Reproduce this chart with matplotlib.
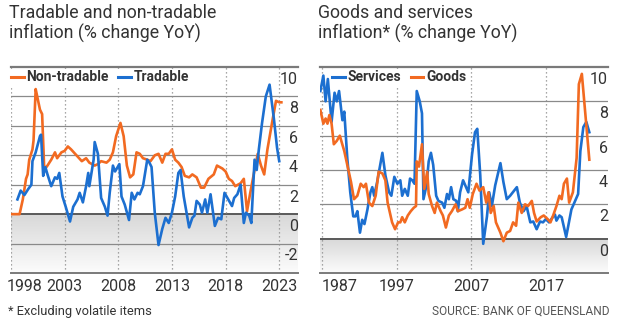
import matplotlib
matplotlib.use("Agg")
import matplotlib.pyplot as plt
import matplotlib.transforms as mtransforms
from matplotlib.colors import LinearSegmentedColormap
import numpy as np

ORANGE = "#f26a21"
BLUE = "#1c6fd0"
GRID = "#8a8a8a"
TEXT = "#333333"

plt.rcParams["font.family"] = ["Roboto", "DejaVu Sans"]

# --- left panel: tradable vs non-tradable (% change YoY)
nontrad_year = [1998.0, 1998.8, 1999.1, 1999.4, 1999.55, 1999.7, 2000.0, 2000.1, 2000.3, 2000.5,
                2000.7, 2000.9, 2001.1, 2001.4, 2001.75, 2002.1, 2002.3, 2002.7, 2003.0, 2003.3,
                2003.6, 2004.1, 2004.6, 2005.0, 2005.3, 2005.8, 2006.1, 2006.4, 2006.9, 2007.2,
                2007.5, 2007.8, 2008.2, 2008.5, 2008.8, 2009.1, 2009.4, 2009.7, 2010.0, 2010.3,
                2010.7, 2011.0, 2011.4, 2011.75, 2012.1, 2012.4, 2012.7, 2013.0, 2013.3, 2013.6,
                2013.9, 2014.2, 2014.6, 2014.9, 2015.3, 2015.7, 2016.0, 2016.4, 2016.9, 2017.2,
                2017.7, 2018.0, 2018.3, 2018.6, 2018.9, 2019.4, 2019.7, 2020.0, 2020.3, 2020.7,
                2021.0, 2021.3, 2021.6, 2021.9, 2022.4, 2022.7, 2023.0, 2023.2]
nontrad_val = [0.0, 0.0, 1.0, 2.4, 2.7, 3.7, 4.4, 5.0, 8.5, 7.8,
               7.1, 6.8, 3.0, 3.3, 3.7, 4.2, 3.8, 4.2, 4.3, 4.6,
               4.4, 4.0, 3.6, 3.8, 3.5, 3.3, 3.4, 3.6, 3.5, 3.7,
               4.2, 5.3, 6.2, 5.3, 3.3, 2.5, 2.7, 4.2, 4.1, 3.8,
               3.7, 3.6, 4.0, 4.1, 3.5, 4.1, 4.1, 4.4, 3.7, 3.5,
               3.2, 2.6, 2.5, 2.7, 2.5, 1.8, 1.8, 2.4, 2.7, 3.3,
               3.1, 2.9, 2.4, 2.25, 1.9, 2.1, 2.4, 0.2, 1.45, 3.0,
               4.1, 3.3, 2.7, 4.4, 6.5, 7.7, 7.6, 7.6]

trad_year = [1998.6, 1998.9, 1999.25, 1999.6, 1999.9, 2000.0, 2000.3, 2000.7, 2000.8, 2001.0,
             2001.2, 2001.4, 2001.75, 2002.1, 2002.3, 2002.5, 2002.8, 2003.1, 2003.5, 2003.8,
             2004.2, 2004.4, 2004.7, 2005.0, 2005.2, 2005.3, 2005.7, 2005.8, 2006.1, 2006.4,
             2006.75, 2007.0, 2007.2, 2007.5, 2007.7, 2008.1, 2008.3, 2008.6, 2009.0, 2009.25,
             2009.5, 2009.8, 2010.0, 2010.3, 2010.7, 2010.9, 2011.1, 2011.4, 2011.75, 2012.1,
             2012.4, 2012.7, 2013.0, 2013.3, 2013.6, 2013.8, 2014.1, 2014.6, 2014.9, 2015.1,
             2015.3, 2015.6, 2015.8, 2016.1, 2016.3, 2016.6, 2017.0, 2017.3, 2017.6, 2017.9,
             2018.25, 2018.6, 2018.8, 2019.1, 2019.4, 2019.7, 2019.9, 2020.2, 2020.4, 2020.7,
             2020.9, 2021.1, 2021.4, 2021.75, 2022.1, 2022.5, 2022.8, 2023.0]
trad_val = [1.0, 1.6, 1.3, 1.7, 2.0, 3.6, 4.2, 5.3, 5.4, 2.6,
            3.2, 2.7, 1.9, 2.5, 2.4, 2.8, 1.2, 0.5, -0.5, 0.5,
            1.0, 1.45, 0.8, 1.9, 2.8, 1.9, 3.7, 4.9, 4.1, 1.1,
            0.5, -0.1, 1.45, 3.3, 2.9, 3.4, 1.2, 0.65, -0.4, 1.45,
            1.0, 1.45, 1.35, 1.9, 3.7, 3.5, 3.2, 0.1, -2.1, -1.0,
            -0.25, -0.6, 0.1, 1.2, 2.8, 3.0, 1.2, -0.9, -0.25, -0.1,
            0.9, 0.65, 0.1, 1.0, 0.1, 1.35, -0.8, -0.25, -0.35, 1.45,
            1.0, 0.55, 1.1, 1.35, 2.0, -0.6, 0.1, -0.1, -0.6, 3.7,
            3.0, 4.4, 6.2, 8.0, 8.8, 6.5, 4.5, 3.6]

left_years = [1998, 2003, 2008, 2013, 2018, 2023]
left_yticks = [10, 8, 6, 4, 2, 0, -2]

# --- right panel: services vs goods, excluding volatile items
services_year = [1986.8, 1987.2, 1987.5, 1987.8, 1988.3, 1988.7, 1989.0, 1989.3, 1989.75, 1990.0,
                 1990.4, 1990.8, 1991.2, 1991.5, 1991.75, 1992.1, 1992.4, 1992.7, 1993.1, 1993.5,
                 1993.75, 1994.0, 1994.4, 1995.1, 1995.5, 1996.0, 1996.3, 1996.7, 1997.1, 1997.5,
                 1997.75, 1998.1, 1998.5, 1998.8, 1999.1, 1999.4, 1999.7, 2000.1, 2000.4, 2000.6,
                 2001.0, 2001.3, 2001.6, 2001.9, 2002.3, 2002.6, 2003.1, 2003.4, 2003.75, 2004.0,
                 2004.3, 2004.6, 2005.0, 2005.2, 2005.5, 2005.9, 2006.2, 2006.6, 2007.1, 2007.5,
                 2007.8, 2008.2, 2008.6, 2009.1, 2009.4, 2009.75, 2010.2, 2010.9, 2011.3, 2011.75,
                 2012.2, 2013.1, 2013.5, 2014.0, 2014.4, 2014.9, 2015.3, 2015.75, 2016.2, 2016.6,
                 2017.0, 2017.4, 2017.9, 2018.2, 2018.4, 2018.8, 2019.1, 2019.7, 2020.4, 2020.9,
                 2021.3, 2021.6, 2022.0, 2022.4, 2022.8]
services_val = [8.6, 9.5, 8.0, 9.3, 6.8, 8.5, 8.0, 8.6, 6.9, 7.4,
                4.7, 2.7, 1.3, 1.3, 1.6, 0.35, 1.1, 0.85, 1.7, 2.7,
                3.0, 2.5, 3.3, 5.0, 3.7, 2.7, 2.5, 3.6, 3.2, 3.4,
                2.5, 2.9, 2.5, 3.5, 3.4, 3.2, 8.6, 8.0, 7.3, 2.3,
                3.1, 4.5, 5.0, 4.3, 2.5, 2.2, 2.1, 1.8, 2.6, 2.3,
                3.0, 2.3, 2.2, 1.6, 2.7, 3.4, 3.1, 2.7, 4.9, 6.2,
                6.4, 3.7, -0.3, 1.3, 2.7, 1.9, 3.1, 4.4, 3.3, 2.3,
                2.5, 3.0, 2.1, 1.6, 1.9, 0.95, 1.0, 0.55, 1.0, 0.95,
                1.15, 0.95, 1.25, 1.4, 1.05, 1.35, 1.25, 0.1, 1.7, 2.2,
                2.6, 5.1, 6.5, 6.8, 6.2]

goods_year = [1986.8, 1987.2, 1987.5, 1987.75, 1988.0, 1988.3, 1988.6, 1989.0, 1989.4, 1990.0,
              1990.4, 1990.9, 1991.3, 1991.75, 1992.2, 1992.6, 1992.9, 1993.3, 1993.75, 1994.2,
              1994.6, 1995.1, 1995.5, 1995.8, 1996.4, 1996.8, 1997.2, 1997.5, 1997.75, 1998.1,
              1998.5, 1998.9, 1999.3, 1999.6, 1999.7, 2000.0, 2000.4, 2000.7, 2001.1, 2001.3,
              2001.75, 2002.1, 2002.4, 2002.9, 2003.2, 2003.6, 2004.0, 2004.4, 2004.9, 2005.2,
              2005.75, 2006.2, 2006.5, 2006.8, 2007.2, 2007.7, 2008.1, 2008.6, 2009.0, 2009.3,
              2009.6, 2010.0, 2010.3, 2010.9, 2011.3, 2011.75, 2012.2, 2012.6, 2013.0, 2013.3,
              2013.75, 2014.2, 2014.6, 2015.1, 2015.4, 2015.75, 2016.3, 2016.7, 2017.2, 2017.6,
              2018.0, 2018.4, 2018.8, 2019.1, 2019.4, 2019.8, 2020.1, 2020.6, 2021.1, 2021.4,
              2021.8, 2022.4, 2022.8]
goods_val = [7.5, 6.7, 7.0, 6.7, 7.2, 6.7, 5.5, 5.7, 6.0, 5.1,
             4.3, 3.3, 2.3, 2.5, 3.2, 3.0, 3.2, 2.1, 1.9, 2.5,
             3.9, 3.8, 3.4, 2.1, 0.95, 0.55, 0.95, 0.95, 1.25, 0.95,
             1.35, 1.6, 1.8, 1.9, 4.5, 4.2, 5.5, 2.9, 3.9, 2.6,
             1.9, 1.5, 2.1, 1.6, 1.35, 0.65, 1.35, 1.6, 2.0, 1.6,
             1.7, 1.8, 2.3, 1.8, 2.6, 3.2, 2.8, 3.0, 2.1, 2.7,
             1.5, 1.9, 0.95, 0.35, -0.15, 0.35, 0.45, 0.95, 0.75, 2.1,
             1.5, 2.0, 1.9, 2.2, 1.5, 1.0, 1.25, 1.35, 1.15, 0.95,
             1.4, 1.9, 2.5, 2.3, 3.2, 3.5, 2.1, 2.7, 4.7, 9.0,
             9.6, 6.6, 4.6]

right_years = [1987, 1997, 2007, 2017]
right_yticks = [10, 8, 6, 4, 2, 0]

W, H = 620, 327
fig = plt.figure(figsize=(W / 100, H / 100), dpi=100)
fig.patch.set_facecolor("white")

shade = LinearSegmentedColormap.from_list("shade", ["#d8d8d8", "#fcfcfc"])


def style_panel(ax, xlim, ylim, years, yticks, first_shift):
    ax.set_xlim(*xlim)
    ax.set_ylim(*ylim)
    for side in ["left", "right"]:
        ax.spines[side].set_visible(False)
    ax.spines["top"].set_color("#7a7a7a")
    ax.spines["top"].set_linewidth(1.6)
    ax.spines["bottom"].set_color("#7a7a7a")
    ax.spines["bottom"].set_linewidth(1.4)

    # grey fade below zero
    grad = np.linspace(0, 1, 100).reshape(-1, 1)
    ax.imshow(grad, cmap=shade, aspect="auto", origin="upper",
              extent=(xlim[0], xlim[1], ylim[0], 0), zorder=0)

    for v in range(int(ylim[0]) + 2, int(ylim[1]), 2):
        if v == 0:
            ax.axhline(v, color="#5a5a5a", lw=1.4, zorder=1)
        else:
            ax.axhline(v, color=GRID, lw=0.9, zorder=1)
    for yr in years:
        ax.axvline(yr, color=GRID, lw=0.9, ls=(0, (1, 2.2)), zorder=1)

    ax.set_yticks([])
    for v in yticks:
        ax.annotate(str(v), xy=(1, v), xycoords=("axes fraction", "data"),
                    xytext=(0, -3.5), textcoords="offset points",
                    ha="right", va="top", fontsize=11.5, color=TEXT)

    ax.set_xticks(years, [str(y) for y in years])
    ax.tick_params(axis="x", length=0, pad=4, labelsize=11.5, labelcolor=TEXT)
    lab = ax.get_xticklabels()[0]
    lab.set_horizontalalignment("left")
    lab.set_transform(lab.get_transform() +
                      mtransforms.ScaledTranslation(first_shift / 100, 0, fig.dpi_scale_trans))


ax1 = fig.add_axes([11 / W, 1 - 273 / H, 287 / W, 206 / H])
style_panel(ax1, (1998.0, 2024.75), (-4, 10), left_years, left_yticks, -4)
ax1.plot(nontrad_year, nontrad_val, color=ORANGE, lw=1.9, zorder=3,
         solid_joinstyle="round", label="Non-tradable")
ax1.plot(trad_year, trad_val, color=BLUE, lw=1.9, zorder=3,
         solid_joinstyle="round", label="Tradable")

ax2 = fig.add_axes([320 / W, 1 - 273 / H, 288 / W, 206 / H])
style_panel(ax2, (1986.75, 2025.3), (-2, 10), right_years, right_yticks, 0)
ax2.plot(services_year, services_val, color=BLUE, lw=1.9, zorder=3,
         solid_joinstyle="round", label="Services")
ax2.plot(goods_year, goods_val, color=ORANGE, lw=1.9, zorder=3,
         solid_joinstyle="round", label="Goods")

for ax, anchor in [(ax1, (-0.012, 1.0)), (ax2, (0.03, 1.0))]:
    leg = ax.legend(loc="upper left", bbox_to_anchor=anchor, ncol=2, frameon=True,
                    handlelength=0.9, handletextpad=0.2, columnspacing=0.7,
                    borderpad=0.1, borderaxespad=0.15,
                    prop={"weight": "bold", "size": 10})
    leg.get_frame().set_facecolor("white")
    leg.get_frame().set_edgecolor("none")
    leg.get_frame().set_alpha(1)
    leg.get_frame().set_boxstyle("square", pad=0)
    leg.set_zorder(5)
    for t in leg.get_texts():
        t.set_color(TEXT)
    for h in leg.legend_handles:
        h.set_linewidth(2.2)

fig.text(9 / W, 1 - 4 / H, "Tradable and non-tradable\ninflation (% change YoY)",
         ha="left", va="top", fontsize=12.8, color=TEXT, linespacing=1.1)
fig.text(318 / W, 1 - 4 / H, "Goods and services\ninflation* (% change YoY)",
         ha="left", va="top", fontsize=12.8, color=TEXT, linespacing=1.1)

fig.text(8 / W, 1 - 311 / H, "* Excluding volatile items", ha="left", va="center",
         fontsize=9.3, color=TEXT)
fig.text(610 / W, 1 - 311 / H, "SOURCE: BANK OF QUEENSLAND", ha="right", va="center",
         fontsize=8.6, color="#555555")

fig.savefig("out.png", dpi=100, facecolor="white")
